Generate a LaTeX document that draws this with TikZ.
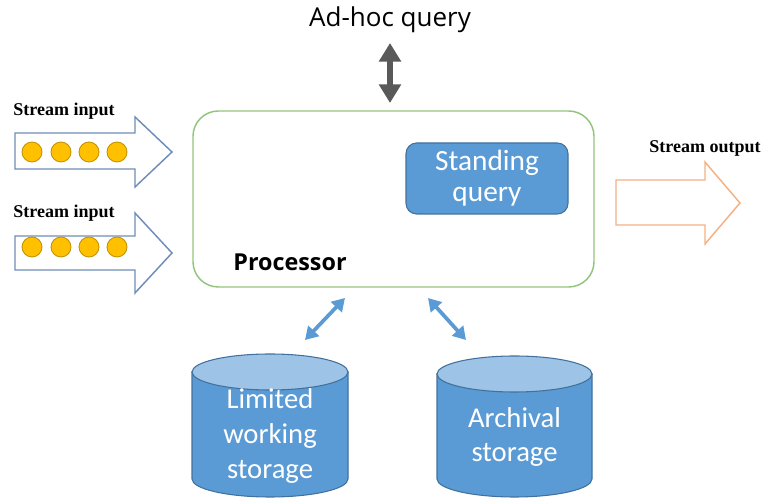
\documentclass[tikz,border=0pt]{standalone}
\usepackage{fontspec}
\setmainfont{Carlito}
\newfontfamily\uifont{Open Sans}
\newfontfamily\labelfont{Liberation Serif}
\usetikzlibrary{arrows.meta}

\definecolor{boxblue}{HTML}{5B9BD5}
\definecolor{edgeblue}{HTML}{41719C}
\definecolor{capblue}{HTML}{9DC3E6}
\definecolor{procgreen}{HTML}{93C47D}
\definecolor{coin}{HTML}{FFC000}
\definecolor{coinedge}{HTML}{BF9000}
\definecolor{inedge}{HTML}{6F8DB9}
\definecolor{outedge}{HTML}{F4B183}
\definecolor{darkgray}{HTML}{595959}

\tikzset{
  blockarrow/.style={line width=1.1pt, line join=miter, fill=white},
  coinnode/.style={circle, draw=coinedge, fill=coin, line width=0.6pt,
                   minimum size=15pt, inner sep=0pt},
  streamlabel/.style={font=\labelfont\bfseries\fontsize{13.5}{15}\selectfont, inner sep=0pt},
  storetext/.style={font=\fontsize{21.5}{26}\selectfont, text=white, align=center, inner sep=0pt},
  cylbody/.style={fill=boxblue, draw=edgeblue, line width=0.8pt},
  cylcap/.style={fill=capblue, draw=edgeblue, line width=0.8pt},
  linkarrow/.style={draw=boxblue, line width=2.8pt,
                    {Triangle[length=9.5pt,width=11pt]}-{Triangle[length=9.5pt,width=11pt]}},
}

\begin{document}
\begin{tikzpicture}[x=0.75pt, y=-0.75pt]
\useasboundingbox (0,0) rectangle (765,498);

% ad-hoc query and its two-way arrow
\node[font=\uifont\fontsize{19.5}{22}\selectfont, inner sep=0pt] (adhoc) at (390,20) {Ad-hoc query};
\coordinate (adtop) at (390,43);
\coordinate (adbot) at (390,103);
\draw[draw=darkgray, line width=4.5pt,
      {Triangle[length=14pt,width=16pt]}-{Triangle[length=14pt,width=16pt]}] (adtop) -- (adbot);

% processor
\node[draw=procgreen, line width=1.1pt, rounded corners=19pt,
      minimum width=300.75pt, minimum height=132pt, inner sep=0pt] (proc) at (393.5,199) {};
\node[font=\uifont\bfseries\fontsize{17.5}{20}\selectfont, inner sep=0pt] (proclabel) at (290,262) {Processor};

% standing query
\node[fill=boxblue, draw=edgeblue, line width=0.8pt, rounded corners=8pt,
      minimum width=121.5pt, minimum height=53.25pt, inner sep=0pt,
      text=white, align=center, font=\fontsize{22}{23}\selectfont] (standing) at (487,178.5)
      {Standing\\query};

% stream inputs
\node[streamlabel] (in1label) at (64,111) {Stream input};
\draw[blockarrow, draw=inedge] (15,133) -- (135,133) -- (135,117) -- (172,152)
  -- (135,187) -- (135,169) -- (15,169) -- cycle;
\foreach \i/\x in {1/32,2/61,3/89,4/117}
  \node[coinnode] (a\i) at (\x,152) {};

\node[streamlabel] (in2label) at (64,213) {Stream input};
\draw[blockarrow, draw=inedge] (15,236) -- (135,236) -- (135,213) -- (172,253)
  -- (135,293) -- (135,270) -- (15,270) -- cycle;
\foreach \i/\x in {1/32,2/61,3/89,4/117}
  \node[coinnode] (b\i) at (\x,247) {};

% stream output
\node[streamlabel] (outlabel) at (705,148) {Stream output};
\draw[blockarrow, draw=outedge] (616,180) -- (705,180) -- (705,162) -- (740,203)
  -- (705,244) -- (705,225) -- (616,225) -- cycle;

% limited working storage
\draw[cylbody] (192,372) -- (192,479) arc[start angle=180, end angle=0, x radius=78, y radius=18]
  -- (348,372) -- cycle;
\draw[cylcap] (270,372) ellipse[x radius=78, y radius=18];
\node[storetext] (working) at (270,436) {Limited\\working\\storage};

% archival storage
\draw[cylbody] (437,374) -- (437,479) arc[start angle=180, end angle=0, x radius=77.5, y radius=18]
  -- (592,374) -- cycle;
\draw[cylcap] (514.5,374) ellipse[x radius=77.5, y radius=18];
\node[storetext] (archival) at (514.5,437) {Archival\\storage};

% links between processor and storage
\coordinate (l1a) at (345,298);
\coordinate (l1b) at (305,340);
\coordinate (l2a) at (428,298);
\coordinate (l2b) at (466,340);
\draw[linkarrow] (l1a) -- (l1b);
\draw[linkarrow] (l2a) -- (l2b);
\end{tikzpicture}
\end{document}
